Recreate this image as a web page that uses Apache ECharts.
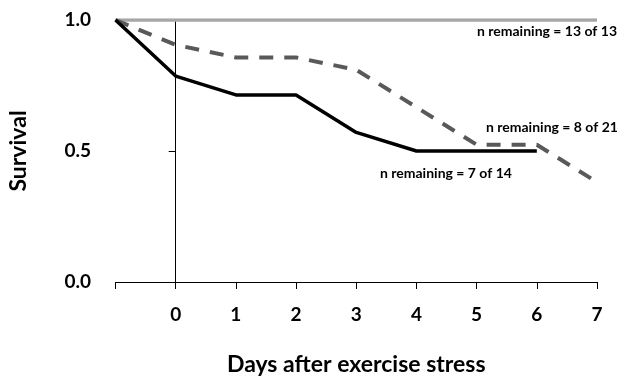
<!DOCTYPE html>
<html>
<head>
<meta charset="utf-8">
<script src="https://cdn.jsdelivr.net/npm/echarts@6/dist/echarts.min.js"></script>
<style>html,body{margin:0;padding:0;background:#fff}#c{width:627px;height:379px}</style>
</head>
<body>
<div id="c"></div>
<script>
var days = [-1, 0, 1, 2, 3, 4, 5, 6, 7];
var xTicks = [-1, 0, 1, 2, 3, 4, 5, 6, 7];
var yTicks = [0, 0.5, 1.0];
var groupA = [1, 1, 1, 1, 1, 1, 1, 1, 1];                       // 13 of 13
var groupB = [1, 0.905, 0.857, 0.857, 0.810, 0.667, 0.524, 0.524, 0.381]; // 8 of 21
var groupC = [1, 0.786, 0.714, 0.714, 0.571, 0.5, 0.5, 0.5, null];     // 7 of 14
var labels = ['n remaining = 13 of 13', 'n remaining = 8 of 21', 'n remaining = 7 of 14'];

function pairs(v) {
  var out = [];
  for (var i = 0; i < days.length; i++) if (v[i] !== null) out.push([days[i], v[i]]);
  return out;
}
var FONT = 'Lato';
var chart = echarts.init(document.getElementById('c'), null, {renderer: 'canvas'});
chart.setOption({
  animation: false,
  backgroundColor: '#fff',
  grid: {left: 115.5, right: 30, top: 20, bottom: 97, containLabel: false, outerBoundsMode: 'none'},
  xAxis: {
    type: 'value', min: -1, max: 7, interval: 1,
    splitLine: {show: false},
    axisLine: {show: true, onZero: true, lineStyle: {color: '#000', width: 1}},
    axisTick: {show: true, length: 7, lineStyle: {color: '#000'}},
    axisLabel: {
      margin: 23, color: '#000', fontFamily: FONT, fontWeight: 'bold', fontSize: 19,
      formatter: function (v) { return v === xTicks[0] ? '' : String(v); }
    },
    name: 'Days after exercise stress', nameLocation: 'middle', nameGap: 71,
    nameTextStyle: {color: '#000', fontFamily: FONT, fontWeight: 'bold', fontSize: 23}
  },
  yAxis: {
    type: 'value', min: yTicks[0], max: yTicks[2], interval: 0.5,
    splitLine: {show: false},
    axisLine: {show: true, onZero: true, lineStyle: {color: '#000', width: 1}},
    axisTick: {show: true, length: 7, lineStyle: {color: '#000'}},
    axisLabel: {
      margin: 24.5, color: '#000', fontFamily: FONT, fontWeight: 'bold', fontSize: 19,
      formatter: function (v) { return v.toFixed(1); }
    },
    name: 'Survival', nameLocation: 'middle', nameGap: 85,
    nameTextStyle: {color: '#000', fontFamily: FONT, fontWeight: 'bold', fontSize: 23}
  },
  series: [
    {type: 'line', data: pairs(groupA), symbol: 'none', lineStyle: {color: '#a6a6a6', width: 3.5}},
    {type: 'line', data: pairs(groupB), symbol: 'none', lineStyle: {color: '#595959', width: 4, type: [14, 11]}},
    {type: 'line', data: pairs(groupC), symbol: 'none', lineStyle: {color: '#000', width: 3.5}}
  ],
  graphic: [
    {type: 'text', left: 477, top: 24, style: {text: labels[0], fill: '#000', font: 'bold 14px Lato'}},
    {type: 'text', left: 486, top: 120, style: {text: labels[1], fill: '#000', font: 'bold 14px Lato'}},
    {type: 'text', left: 380, top: 166, style: {text: labels[2], fill: '#000', font: 'bold 14px Lato'}}
  ]
});
</script>
</body>
</html>
